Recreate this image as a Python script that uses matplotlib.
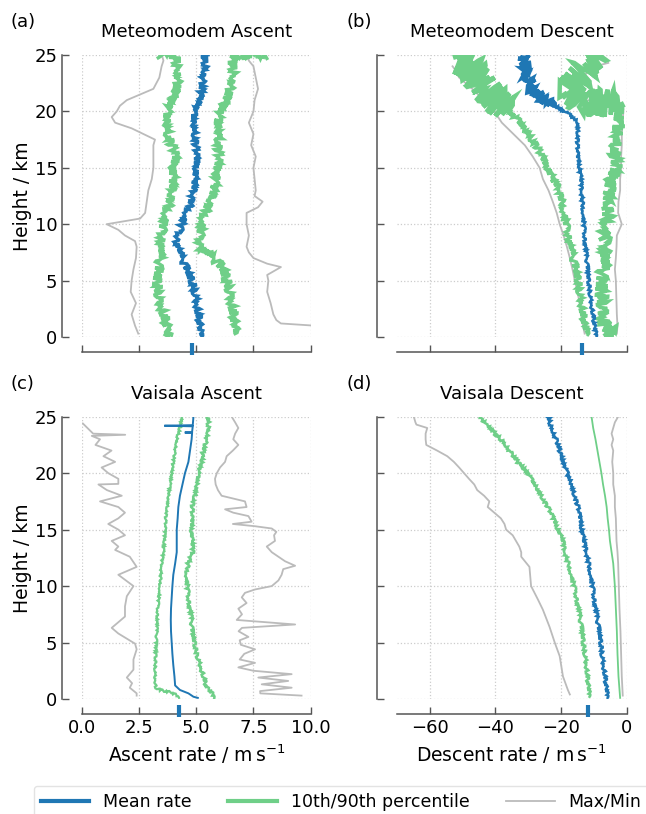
import numpy as np
import matplotlib
matplotlib.use('Agg')
import matplotlib.pyplot as plt

# Colours
BLUE = '#1f77b4'
GREEN = '#6fcf88'
GREY = '#bbbbbb'

#################################
# (a) Meteomodem ascent  (m/s vs km)
a_mean_h = [0, 0.5, 1, 2, 3, 4, 5, 6, 7, 8, 8.5, 9, 10, 11, 12, 13, 14, 15, 16, 17, 18, 19, 20, 21, 22, 23, 24, 25]
a_mean = [5.24, 5.17, 5.17, 5.09, 5.02, 4.95, 4.80, 4.59, 4.37, 4.22, 4.15, 4.22, 4.37, 4.59, 4.80, 4.88, 4.95,
          5.02, 4.99, 4.99, 4.95, 4.88, 4.90, 5.17, 5.24, 5.31, 5.39, 5.39]
a_p10_h = [0.2, 0.5, 1, 2, 3, 4, 5, 6, 7, 8, 9, 10, 11, 12, 13, 14, 15, 16, 17, 18, 19, 20, 21, 22, 23, 24, 24.9, 25]
a_p10 = [3.64, 3.86, 3.71, 3.57, 3.42, 3.35, 3.28, 3.35, 3.42, 3.49, 3.49, 3.57, 3.71, 3.86, 3.93, 4.00, 4.00,
         4.08, 3.93, 3.78, 3.71, 3.71, 3.93, 4.15, 4.22, 4.15, 4.15, 3.35]
a_p90_h = [0.3, 1, 2, 3, 4, 5, 6, 7, 8, 9, 10, 11, 12, 13, 14, 15, 16, 17, 18, 19, 20, 21, 22, 23, 24, 24.9, 25]
a_p90 = [6.70, 6.70, 6.62, 6.55, 6.48, 6.33, 6.19, 5.75, 5.17, 5.17, 5.24, 5.39, 5.60, 5.75, 5.90, 5.90, 5.97,
         5.97, 6.04, 5.90, 6.04, 6.33, 6.48, 6.62, 6.62, 6.62, 8.08]
a_max_h = [1.0, 1.2, 1.5, 2, 3, 4, 5, 5.5, 6.2, 6.5, 7, 7.5, 8, 9, 10, 11, 11.5, 12, 12.5, 13, 14, 15, 16, 17,
           18, 19, 20, 21, 22, 23, 24, 24.5, 25]
a_max = [10.2, 8.7, 8.5, 8.37, 8.25, 8.1, 8.15, 8.1, 8.7, 8.1, 7.5, 7.3, 7.2, 7.3, 7.2, 7.2, 7.7, 7.9, 7.55, 7.6,
         7.55, 7.5, 7.6, 7.4, 7.5, 7.3, 7.5, 7.55, 7.7, 7.6, 7.5, 7.3, 7.2]
a_min_h = [0.3, 1, 2, 3, 4, 5, 6, 7, 8, 8.5, 9, 9.5, 10, 10.5, 11, 12, 13, 14, 15, 16, 17, 17.5, 18, 18.5, 19,
           19.5, 20, 20.5, 21, 21.5, 22, 23, 24, 24.5, 25]
a_min = [2.47, 2.33, 2.18, 2.37, 2.14, 2.18, 2.26, 2.37, 2.40, 2.33, 1.89, 1.60, 1.09, 2.55, 2.77, 2.84, 2.91,
         3.06, 3.13, 3.13, 3.13, 3.20, 2.69, 2.18, 1.46, 1.31, 1.53, 1.67, 1.97, 2.55, 3.13, 3.39, 3.49, 3.57, 3.50]

#################################
# (b) Meteomodem descent
b_mean_h = [0, 1, 2, 3, 4, 5, 6, 7, 8, 9, 10, 11, 12, 13, 14, 15, 16, 17, 18, 19, 19.5, 20, 20.5, 21, 21.5, 22,
            22.5, 23, 23.5, 24, 24.5, 25]
b_mean = [-9.2, -9.8, -10.3, -10.8, -11.2, -11.6, -11.9, -12.2, -12.5, -12.8, -13.0, -13.2, -13.5, -13.8, -13.9,
          -14.3, -15.0, -15.0, -14.8, -15.0, -16.5, -19.0, -21.9, -25.5, -27.0, -29.5, -28.5, -30.0, -31.5, -30.5,
          -32.0, -31.5]
b_p10_h = [0.2, 1, 2, 3, 4, 5, 6, 7, 8, 9, 10, 11, 12, 13, 14, 15, 16, 17, 18, 19, 20, 21, 22, 23, 24, 24.5, 25]
b_p10 = [-11.8, -12.8, -13.3, -13.8, -14.3, -14.8, -15.5, -16.3, -17.0, -17.7, -18.4, -19.0, -19.7, -20.4, -22.5,
         -24.0, -26.0, -27.5, -30.0, -32.5, -36.0, -40.0, -43.0, -45.0, -48.0, -52.0, -48.0]
b_p90_h = [0.2, 0.5, 1, 2, 3, 4, 5, 6, 7, 8, 9, 10, 11, 12, 13, 14, 15, 16, 17, 18, 19, 20, 20.7, 20.8, 21.5,
           22, 23, 24, 24.5, 25]
b_p90 = [-6.6, -3.6, -7.1, -7.1, -7.1, -7.7, -7.7, -7.1, -6.6, -5.6, -7.1, -5.6, -5.6, -6.1, -5.1, -4.6, -3.6,
         -3.6, -3.1, -3.1, -2.8, -2.6, -2.6, -13.0, -16.0, -17.5, -15.0, -12.0, -9.0, -8.0]
b_max_h = [0.3, 1, 2, 3, 4, 5, 6, 7, 8, 9, 10, 11, 12, 13, 14, 15, 16, 17, 18, 19, 20, 20.5, 20.9, 21.0, 21.3,
           21.8, 22.3, 22.6, 23.0, 23.6, 24.0, 24.3]
b_max = [-3.0, -2.8, -3.0, -3.1, -3.2, -3.3, -3.6, -3.3, -3.1, -3.0, -1.5, -2.6, -2.5, -2.0, -2.0, -1.7, -1.7,
         -1.5, -1.5, -1.3, -1.0, -1.2, -2.6, -14.3, -15.3, -15.3, -13.8, -13.3, -13.3, -11.7, -9.7, -5.6]
b_min_h = [0.3, 1, 2, 3, 4, 5, 6, 7, 8, 9, 10, 11, 12, 13, 14, 15, 16, 17, 18, 19, 20, 21, 22, 22.5, 23, 23.6, 24]
b_min = [-12.8, -13.3, -13.8, -14.3, -15.0, -15.8, -16.5, -17.3, -18.2, -19.2, -20.4, -21.3, -22.5, -23.8, -25.5,
         -26.5, -28.6, -31.0, -34.5, -38.0, -40.3, -43.5, -47.0, -49.0, -51.0, -52.0, -53.0]

#################################
# (c) Vaisala ascent
c_mean_h = [0.1, 0.2, 0.5, 0.8, 1.2, 2, 3, 4, 5, 6, 7, 8, 9, 10, 11, 12, 13, 14, 15, 16, 17, 18, 19, 20, 21, 22,
            23, 23.55, 23.6, 23.65, 24.15, 24.2, 24.25, 24.5, 25]
c_mean = [5.07, 4.88, 4.66, 4.29, 4.08, 4.05, 4.00, 3.96, 3.93, 3.90, 3.89, 3.90, 3.93, 3.96, 4.00, 4.08, 4.15,
          4.15, 4.15, 4.19, 4.22, 4.29, 4.40, 4.51, 4.66, 4.73, 4.80, 4.82, 4.50, 4.82, 4.85, 3.61, 4.85, 4.86, 4.88]
c_p10_h = [0.1, 0.4, 0.6, 0.8, 1, 2, 4, 6, 8, 10, 12, 13, 14, 15, 16, 17, 18, 19, 20, 21, 22, 23, 24, 25]
c_p10 = [4.25, 4.08, 3.86, 3.42, 3.23, 3.20, 3.23, 3.28, 3.32, 3.42, 3.49, 3.57, 3.61, 3.64, 3.67, 3.74, 3.78,
         3.86, 3.93, 4.00, 4.08, 4.15, 4.29, 4.37]
c_p90_h = [0.1, 0.5, 1, 2, 3, 4, 5, 6, 7, 8, 9, 10, 11, 12, 13, 14, 15, 16, 17, 18, 19, 20, 21, 22, 23, 24, 25]
c_p90 = [5.79, 5.68, 5.46, 5.31, 5.17, 5.02, 4.92, 4.82, 4.80, 4.73, 4.66, 4.62, 4.58, 4.65, 4.85, 4.83, 4.80,
         4.80, 4.83, 4.95, 5.02, 5.09, 5.24, 5.31, 5.46, 5.53, 5.53]
c_max_h = [0.3, 0.5, 0.7, 1.0, 1.3, 1.6, 1.9, 2.2, 2.5, 2.8, 3.2, 3.5, 4.0, 4.4, 4.8, 5.2, 5.5, 6.0, 6.3, 6.6,
           7.0, 7.5, 8.0, 8.5, 9.0, 9.4, 9.7, 10.0, 10.5, 11.0, 11.5, 11.8, 12.2, 12.6, 13.0, 13.5, 14.0, 14.5,
           14.8, 15.1, 15.3, 15.5, 15.7, 16.2, 16.5, 16.8, 17.0, 17.5, 18.0, 18.5, 19.0, 19.5, 20.0, 20.5, 21.0,
           21.5, 22.0, 22.5, 23.0, 23.5, 24.0, 24.5, 25.0]
c_max = [9.6, 7.8, 7.79, 9.17, 7.86, 9.02, 7.71, 9.17, 7.5, 6.84, 7.57, 6.9, 7.1, 7.57, 6.95, 6.9, 7.28, 6.85,
         7.0, 9.32, 6.77, 7.0, 6.84, 7.2, 6.99, 7.13, 7.57, 8.3, 8.59, 8.73, 8.8, 9.32, 8.88, 8.59, 8.3, 8.08,
         8.44, 8.4, 8.5, 8.3, 7.57, 6.6, 7.42, 7.28, 6.62, 6.26, 7.2, 7.13, 6.11, 5.95, 5.85, 5.82, 5.9, 6.04, 6.26,
         6.33, 6.6, 6.84, 6.62, 6.7, 6.84, 6.7, 6.55]
c_min_h = [0.3, 0.5, 1.0, 1.4, 1.9, 2.6, 3.5, 4.4, 4.9, 5.8, 6.3, 7.3, 8.2, 9.1, 10.0, 11.0, 11.7, 12.6, 13.2,
           13.5, 14.0, 14.5, 15.0, 15.5, 16.0, 16.5, 17.0, 17.5, 18.0, 18.5, 19.0, 19.05, 19.5, 20.0, 20.5, 21.0,
           21.5, 22.0, 22.5, 23.0, 23.3, 23.4, 23.5, 24.0, 24.4]
c_min = [2.4, 2.4, 2.1, 2.2, 1.97, 2.26, 2.26, 2.4, 2.33, 1.6, 1.31, 1.89, 1.89, 1.97, 2.26, 1.6, 2.4, 2.1, 1.46,
         1.6, 1.31, 1.89, 1.6, 1.16, 1.6, 1.89, 1.6, 0.8, 1.75, 1.1, 0.73, 1.6, 1.6, 1.16, 0.87, 1.46, 0.95, 1.3,
         0.6, 0.8, 0.44, 1.9, 0.5, 0.25, 0.05]

#################################
# (d) Vaisala descent
d_mean_h = [0.1, 1, 2, 3, 4, 5, 6, 7, 8, 9, 10, 11, 12, 13, 14, 15, 16, 17, 18, 19, 20, 21, 22, 23, 24, 25]
d_mean = [-5.8, -6.2, -6.6, -7.1, -7.5, -7.9, -8.4, -8.9, -9.4, -9.9, -10.4, -10.9, -11.6, -12.3, -13.0, -13.6,
          -14.3, -14.8, -15.8, -16.9, -18.1, -19.4, -20.4, -21.5, -23.0, -23.8]
d_p10_h = [0.2, 1, 2, 3, 4, 5, 6, 7, 8, 9, 10, 11, 12, 13, 14, 15, 16, 17, 18, 19, 20, 21, 22, 23, 24, 25]
d_p10 = [-11.3, -11.6, -12.0, -12.3, -12.7, -13.2, -13.6, -14.1, -14.6, -15.3, -16.0, -16.8, -17.8, -18.9, -19.4,
         -20.9, -22.4, -24.0, -26.0, -28.1, -30.1, -33.2, -35.7, -38.3, -41.8, -44.9]
d_p90_h = [0.1, 2, 4, 6, 8, 10, 12, 13, 14, 15, 16, 17, 18, 19, 20, 21, 22, 23, 24, 25]
d_p90 = [-2.0, -2.5, -2.8, -3.0, -3.3, -3.6, -4.1, -4.6, -5.1, -5.4, -5.8, -6.1, -6.6, -7.2, -7.7, -8.3, -8.9,
         -9.5, -10.2, -10.7]
d_max_h = [0.3, 2, 4, 6, 8, 10, 12, 13, 14, 15, 16, 17, 18, 19, 20, 21, 22, 22.5, 23, 23.5, 24, 24.5, 25]
d_max = [-1.2, -1.5, -1.7, -1.9, -2.2, -2.4, -2.6, -2.8, -3.1, -3.2, -3.3, -3.6, -3.6, -4.1, -4.1, -4.4, -4.1,
         -4.6, -4.1, -4.6, -4.1, -3.6, -2.6]
d_min_h = [0.4, 0.8, 2, 3.8, 5, 6.4, 7.9, 8.8, 10, 11.7, 12.6, 13, 13.5, 14, 14.5, 15, 15.5, 16, 16.5, 17, 17.5,
           18, 18.5, 19, 19.5, 20, 20.5, 21, 21.5, 22, 22.5, 23, 23.5, 24, 24.3, 24.5, 25]
d_min = [-17.3, -17.9, -19.4, -20.4, -21.9, -23.5, -25.5, -27.0, -29.1, -29.6, -32.1, -32.1, -32.7, -33.7, -34.7,
         -36.7, -37.2, -38.3, -40.3, -42.3, -41.8, -43.4, -45.5, -46.4, -48.0, -49.5, -51.0, -52.6, -54.6, -57.7,
         -61.0, -61.2, -61.2, -60.7, -64.0, -64.3, -64.8]

# mean of the rates (marker on the x axis)
mean_marks = [4.8, -13.7, 4.24, -11.9]

panels = [
    ('(a)', 'Meteomodem Ascent', (a_mean_h, a_mean), (a_p10_h, a_p10), (a_p90_h, a_p90),
     (a_max_h, a_max), (a_min_h, a_min), (0, 10), [0, 2.5, 5, 7.5, 10], 'asc'),
    ('(b)', 'Meteomodem Descent', (b_mean_h, b_mean), (b_p10_h, b_p10), (b_p90_h, b_p90),
     (b_max_h, b_max), (b_min_h, b_min), (-70, 0), [-60, -40, -20, 0], 'desc'),
    ('(c)', 'Vaisala Ascent', (c_mean_h, c_mean), (c_p10_h, c_p10), (c_p90_h, c_p90),
     (c_max_h, c_max), (c_min_h, c_min), (0, 10), [0, 2.5, 5, 7.5, 10], 'asc'),
    ('(d)', 'Vaisala Descent', (d_mean_h, d_mean), (d_p10_h, d_p10), (d_p90_h, d_p90),
     (d_max_h, d_max), (d_min_h, d_min), (-70, 0), [-60, -40, -20, 0], 'desc'),
]

# line width (lower, upper) and jitter (sketch scale in px, lower / upper part split at 'split' km)
# for mean, p10, p90
styles = [
    dict(lw=((2.2, 2.2), (2.4, 2.4), (2.4, 2.4)), jit=((3.0, 3.0), (4.0, 4.0), (4.0, 4.0)), split=25),
    dict(lw=((1.8, 3.0), (2.2, 3.5), (2.6, 3.2)), jit=((1.5, 4.5), (3.0, 15), (6.0, 14)), split=20.7),
    dict(lw=((1.4, 1.4), (1.6, 1.6), (1.8, 1.8)), jit=((0, 0), (1.0, 1.0), (1.6, 1.6)), split=25),
    dict(lw=((1.8, 1.8), (1.8, 1.8), (1.3, 1.3)), jit=((1.6, 1.6), (1.6, 1.6), (0, 0)), split=25),
]

W, H = 646., 814.
fig = plt.figure(figsize=(W / 100, H / 100), dpi=100)
rects = [(81.7, 55, 229, 282), (396.7, 55, 230, 282), (81.7, 416.7, 229, 282.3), (396.7, 416.7, 230, 282.3)]
letter_pos = [(10, 22), (347, 22), (10, 384), (347, 384)]


def jline(ax, x, y, color, lw, jit, split, z):
    # draw a profile, with a noise-like jitter on the line (lower and upper part)
    x = np.asarray(x)
    y = np.asarray(y)
    lo = y <= split
    parts = [(lo, jit[0], lw[0])]
    if (~lo).any():
        k = np.argmax(~lo)
        up = np.zeros_like(lo)
        up[k - 1:] = True
        parts.append((up, jit[1], lw[1]))
    for m, j, w in parts:
        ln, = ax.plot(x[m], y[m], color=color, lw=w, zorder=z, solid_joinstyle='miter')
        if j > 0:
            ln.set_sketch_params(scale=j, length=0.3, randomness=8.0)


for i, p in enumerate(panels):
    lab, title, mean, p10, p90, mx, mn, xlim, xt, kind = p
    st = styles[i]
    x0, y0, w, h = rects[i]
    ax = fig.add_axes([x0 / W, 1 - (y0 + h) / H, w / W, h / H])
    ax.plot(mx[1], mx[0], color=GREY, lw=1.3, zorder=2)
    ax.plot(mn[1], mn[0], color=GREY, lw=1.3, zorder=2)
    jline(ax, p10[1], p10[0], GREEN, st['lw'][1], st['jit'][1], st['split'], 3)
    jline(ax, p90[1], p90[0], GREEN, st['lw'][2], st['jit'][2], st['split'], 3)
    jline(ax, mean[1], mean[0], BLUE, st['lw'][0], st['jit'][0], st['split'], 4)
    ax.plot([mean_marks[i]], [-1.05], marker='|', ms=9, mew=3, color=BLUE, clip_on=False, zorder=5)

    ax.set_xlim(xlim)
    ax.set_ylim(0, 25)
    ax.set_xticks(xt)
    ax.set_yticks([0, 5, 10, 15, 20, 25])
    ax.grid(True, ls=':', color='#cccccc', lw=0.9)
    for s in ['top', 'right']:
        ax.spines[s].set_visible(False)
    ax.spines['left'].set_position(('outward', 14))
    ax.spines['bottom'].set_position(('outward', 11))
    for s in ['left', 'bottom']:
        ax.spines[s].set_color('#555555')
        ax.spines[s].set_linewidth(1.1)
    ax.tick_params(direction='in', length=5, width=1, color='#555555', labelsize=13)
    ax.set_title(title, fontsize=13, pad=13)
    fig.text(letter_pos[i][0] / W, 1 - letter_pos[i][1] / H, lab, fontsize=13, va='center')

    if i in (0, 2):
        ax.set_ylabel('Height / km', fontsize=13.5, labelpad=2)
    else:
        ax.set_yticklabels([])
    if i in (2, 3):
        if kind == 'asc':
            ax.set_xticklabels(['0.0', '2.5', '5.0', '7.5', '10.0'])
            ax.set_xlabel(r'Ascent rate / m$\,$s$^{-1}$', fontsize=13.5)
        else:
            ax.set_xticklabels(['\u221260', '\u221240', '\u221220', '0'])
            ax.set_xlabel(r'Descent rate / m$\,$s$^{-1}$', fontsize=13.5)
    else:
        ax.set_xticklabels([])

handles = [plt.Line2D([], [], color=BLUE, lw=3),
           plt.Line2D([], [], color=GREEN, lw=3),
           plt.Line2D([], [], color=GREY, lw=1.3)]
fig.legend(handles, ['Mean rate', '10th/90th percentile', 'Max/Min'], loc='upper center',
           bbox_to_anchor=(341 / W, 1 - 777 / H), ncol=3, fontsize=12.5, handlelength=2.8,
           columnspacing=2.1, frameon=True, fancybox=True, edgecolor='#dddddd')

fig.savefig('out.png', dpi=100)
